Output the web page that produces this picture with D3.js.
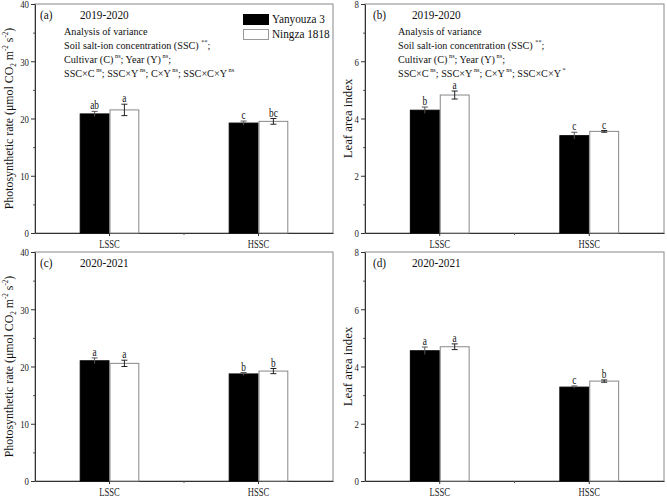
<!DOCTYPE html>
<html><head><meta charset="utf-8">
<script src="https://cdn.jsdelivr.net/npm/d3@7"></script>
<style>body{margin:0;background:#fff} svg text{font-family:"Liberation Serif","Times New Roman",serif !important}</style>
</head><body><svg id="c" width="667" height="497"></svg>
<script>
const categories = ["LSSC", "HSSC"];
const seriesNames = ["Yanyouza 3", "Ningza 1818"];
// panel (a) photosynthetic rate 2019-2020
const pnA_Y = [20.8, 19.2], pnA_N = [21.5, 19.5];
const pnA_Yerr = [0.45, 0.35], pnA_Nerr = [1.0, 0.5];
const pnA_Ylet = ["ab", "c"], pnA_Nlet = ["a", "bc"];
// panel (b) LAI 2019-2020
const laiB_Y = [4.29, 3.40], laiB_N = [4.82, 3.55];
const laiB_Yerr = [0.11, 0.12], laiB_Nerr = [0.14, 0.03];
const laiB_Ylet = ["b", "c"], laiB_Nlet = ["a", "c"];
// panel (c) photosynthetic rate 2020-2021
const pnC_Y = [21.0, 18.7], pnC_N = [20.55, 19.2];
const pnC_Yerr = [0.5, 0.25], pnC_Nerr = [0.55, 0.45];
const pnC_Ylet = ["a", "b"], pnC_Nlet = ["a", "b"];
// panel (d) LAI 2020-2021
const laiD_Y = [4.55, 3.28], laiD_N = [4.69, 3.49];
const laiD_Yerr = [0.13, 0.04], laiD_Nerr = [0.1, 0.04];
const laiD_Ylet = ["a", "c"], laiD_Nlet = ["a", "b"];
const pnTicks = [0, 10, 20, 30, 40];
const laiTicks = [0, 2, 4, 6, 8];

const FF = "Liberation Serif";
const svg = d3.select("#c").attr("font-family", FF);
const panels = [
  {lab:"(a)", yr:"2019-2020", Y:pnA_Y, N:pnA_N, Ye:pnA_Yerr, Ne:pnA_Nerr, Yl:pnA_Ylet, Nl:pnA_Nlet, ticks:pnTicks, max:40, kind:"pn", x0:35, x1:333, y0:4, y1:233, anova:true, last:"ns", legend:true, lx:5, yx:45, ax:29},
  {lab:"(b)", yr:"2019-2020", Y:laiB_Y, N:laiB_N, Ye:laiB_Yerr, Ne:laiB_Nerr, Yl:laiB_Ylet, Nl:laiB_Nlet, ticks:laiTicks, max:8, kind:"lai", x0:365, x1:664, y0:4, y1:233, anova:true, last:"*", lx:8, yx:47, ax:33},
  {lab:"(c)", yr:"2020-2021", Y:pnC_Y, N:pnC_N, Ye:pnC_Yerr, Ne:pnC_Nerr, Yl:pnC_Ylet, Nl:pnC_Nlet, ticks:pnTicks, max:40, kind:"pn", x0:35, x1:333, y0:252, y1:481, lx:5, yx:45},
  {lab:"(d)", yr:"2020-2021", Y:laiD_Y, N:laiD_N, Ye:laiD_Yerr, Ne:laiD_Nerr, Yl:laiD_Ylet, Nl:laiD_Nlet, ticks:laiTicks, max:8, kind:"lai", x0:365, x1:664, y0:252, y1:481, lx:8, yx:47}
];

function stext(g, x, y, size, sx, str) {
  return g.append("text").attr("transform", `translate(${x},${y}) scale(${sx},1)`)
    .attr("font-size", size).attr("fill", "#111").text(str);
}

panels.forEach(p => {
  const g = svg.append("g");
  const x = d3.scaleBand().domain(categories).range([p.x0, p.x1]).padding(0);
  const y = d3.scaleLinear().domain([0, p.max]).range([p.y1, p.y0]);
  const bw = x.bandwidth() * 0.2;
  g.append("rect").attr("x", p.x0).attr("y", p.y0).attr("width", p.x1 - p.x0).attr("height", p.y1 - p.y0)
    .attr("fill", "none").attr("stroke", "#888").attr("stroke-width", 1);
  const step = p.ticks[1] - p.ticks[0];
  const minor = p.ticks.slice(0, -1).map(t => t + step / 2);
  const ya = g.append("g").attr("transform", `translate(${p.x0},0)`)
    .call(d3.axisLeft(y).tickValues(p.ticks).tickSize(4).tickSizeOuter(0).tickPadding(2).tickFormat(d3.format("d")));
  ya.attr("font-family", FF);
  ya.select(".domain").attr("stroke", "#333");
  ya.selectAll("line").attr("stroke", "#333");
  ya.selectAll("text").attr("x", 0).attr("dy", null).attr("transform", "translate(-6,3.8) scale(0.8,1)")
    .attr("font-family", FF).attr("font-size", 11).attr("fill", "#222");
  g.append("g").attr("transform", `translate(${p.x0},0)`)
    .call(d3.axisLeft(y).tickValues(minor).tickSize(2).tickFormat(""))
    .call(s => { s.select(".domain").remove(); s.selectAll("line").attr("stroke", "#555"); });
  const xa = g.append("g").attr("transform", `translate(0,${p.y1})`)
    .call(d3.axisBottom(x).tickSize(3).tickSizeOuter(0));
  xa.attr("font-family", FF);
  xa.select(".domain").attr("stroke", "#333");
  xa.selectAll("line").attr("stroke", "#333");
  xa.selectAll("text").attr("y", 0).attr("dy", null).attr("transform", "translate(0,15) scale(0.75,1)")
    .attr("font-family", FF).attr("font-size", 11.5).attr("fill", "#222");
  g.append("line").attr("x1", (p.x0 + p.x1) / 2).attr("x2", (p.x0 + p.x1) / 2)
    .attr("y1", p.y1).attr("y2", p.y1 + 2).attr("stroke", "#555");
  const rows = categories.map((c, i) => ({c, i}));
  const series = [
    {vals:p.Y, err:p.Ye, let:p.Yl, off:-bw, fill:"#000", stroke:"#000"},
    {vals:p.N, err:p.Ne, let:p.Nl, off:0, fill:"#fff", stroke:"#888"}
  ];
  series.forEach(s => {
    g.selectAll(null).data(rows).join("rect")
      .attr("x", d => x(d.c) + x.bandwidth() / 2 + s.off + 0.5)
      .attr("y", d => y(s.vals[d.i]))
      .attr("width", bw - 1)
      .attr("height", d => y(0) - y(s.vals[d.i]))
      .attr("fill", s.fill).attr("stroke", s.stroke).attr("stroke-width", 1);
    const cx = d => x(d.c) + x.bandwidth() / 2 + s.off + bw / 2;
    const eg = g.selectAll(null).data(rows).join("g");
    eg.append("line").attr("x1", cx).attr("x2", cx)
      .attr("y1", d => y(s.vals[d.i] + s.err[d.i])).attr("y2", d => y(s.vals[d.i] - s.err[d.i]))
      .attr("stroke", s.fill === "#000" ? "#555" : "#222");
    [1, -1].forEach(sg => {
      eg.append("line").attr("x1", d => cx(d) - 3).attr("x2", d => cx(d) + 3)
        .attr("y1", d => y(s.vals[d.i] + sg * s.err[d.i])).attr("y2", d => y(s.vals[d.i] + sg * s.err[d.i]))
        .attr("stroke", s.fill === "#000" ? (sg < 0 ? "none" : "#555") : "#222");
    });
    g.selectAll(null).data(rows).join("text")
      .attr("transform", d => `translate(${cx(d)},${y(s.vals[d.i] + s.err[d.i]) - 2}) scale(0.78,1)`)
      .attr("text-anchor", "middle").attr("font-size", 12).attr("fill", "#111")
      .text(d => s.let[d.i]);
  });
  stext(g, p.x0 + p.lx, p.y0 + 15, 12.5, 0.9, p.lab);
  stext(g, p.x0 + p.yx, p.y0 + 15, 12.5, 0.9, p.yr);
  const yl = g.append("text")
    .attr("transform", `translate(${p.kind === "pn" ? p.x0 - 22.5 : p.x0 - 13.5},${(p.y0 + p.y1) / 2}) rotate(-90) scale(${p.kind === "pn" ? 0.88 : 0.95},1)`)
    .attr("text-anchor", "middle").attr("font-size", 13.5).attr("fill", "#111");
  if (p.kind === "pn") {
    yl.append("tspan").text("Photosynthetic rate (μmol CO");
    yl.append("tspan").attr("font-size", 8).attr("dy", 3).text("2");
    yl.append("tspan").attr("dy", -3).text(" m");
    yl.append("tspan").attr("font-size", 8).attr("dy", -5).text("-2");
    yl.append("tspan").attr("dy", 5).text(" s");
    yl.append("tspan").attr("font-size", 8).attr("dy", -5).text("-2");
    yl.append("tspan").attr("dy", 5).text(")");
  } else {
    yl.text("Leaf area index");
  }
  if (p.anova) {
    const fs = 10.5;
    const lines = [
      [["Analysis of variance", 0]],
      [["Soil salt-ion concentration (SSC) ", 0], ["**", 1], [";", 0]],
      [["Cultivar (C)", 0], [" ns", 1], ["; Year (Y)", 0], [" ns", 1], [";", 0]],
      [["SSC×C", 0], [" ns", 1], ["; SSC×Y", 0], [" ns", 1], ["; C×Y", 0], [" ns", 1], ["; SSC×C×Y", 0], [" " + p.last, 1]]
    ];
    lines.forEach((ln, k) => {
      const t = g.append("text").attr("transform", `translate(${p.x0 + p.ax},${p.y0 + 31 + k * 14}) scale(0.97,1)`)
        .attr("font-size", fs).attr("fill", "#111");
      let sup = false;
      ln.forEach(([s, isSup]) => {
        const ts = t.append("tspan").text(s);
        if (isSup && !sup) { ts.attr("font-size", 6.5).attr("dy", -5); sup = true; }
        else if (!isSup && sup) { ts.attr("dy", 5); sup = false; }
        else if (isSup) ts.attr("font-size", 6.5);
      });
    });
  }
  if (p.legend) {
    seriesNames.forEach((n, k) => {
      g.append("rect").attr("x", 243.5).attr("y", 14.5 + k * 15).attr("width", 25).attr("height", 10)
        .attr("fill", k === 0 ? "#000" : "#fff").attr("stroke", k === 0 ? "#000" : "#999");
      stext(g, 272, 23 + k * 14.5, 12.5, 0.9, n);
    });
  }
});
</script></body></html>
